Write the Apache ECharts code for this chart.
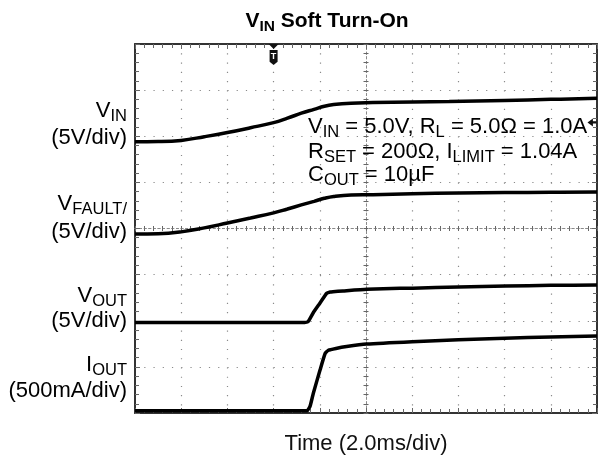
<!DOCTYPE html>
<html>
<head>
<meta charset="utf-8">
<script src="https://cdn.jsdelivr.net/npm/echarts@6/dist/echarts.min.js"></script>
<style>
  html, body { margin: 0; padding: 0; background: #fff; }
  #chart { width: 598px; height: 458px; }
</style>
</head>
<body>
<div id="chart"></div>
<script>
// Time base: 2.0 ms/div, trigger at t = 0, screen spans -6 ms .. 14 ms (10 div)
const timeRangeMs = [-6, 14];
const timePerDivMs = 2;

// Channel 1: VIN (volts), 5 V/div
const vinTime  = [-6, -5, -4, -3, -2, -1, 0, 0.6, 1.2, 1.75, 2.2, 2.6, 3.35, 4.3, 6, 7.6, 10, 12, 14];
const vinVolts = [0, 0.02, 0.15, 0.55, 1.0, 1.52, 2.08, 2.56, 3.1, 3.52, 3.86, 4.04, 4.19, 4.25, 4.32, 4.36, 4.48, 4.6, 4.71];

// Channel 2: VFAULT (volts), 5 V/div
const vfaultTime  = [-6, -5, -4, -3, -2, -1, 0, 0.6, 1.2, 1.75, 2.2, 2.6, 3.35, 4.3, 6, 8, 10, 12, 14];
const vfaultVolts = [0, 0.02, 0.22, 0.65, 1.18, 1.72, 2.28, 2.7, 3.14, 3.53, 3.86, 4.06, 4.22, 4.25, 4.35, 4.44, 4.48, 4.51, 4.54];

// Channel 3: VOUT (volts), 5 V/div
const voutTime  = [-6, -2, 1.35, 1.5, 1.71, 2.01, 2.3, 2.45, 2.57, 3, 4.03, 5.47, 6.03, 8, 10.06, 12, 14];
const voutVolts = [0, 0, 0, 0.12, 1.03, 2.11, 3.17, 3.3, 3.34, 3.42, 3.6, 3.71, 3.72, 3.84, 3.96, 4.02, 4.07];

// Channel 4: IOUT (milliamps), 500 mA/div
const ioutTime = [-6, -2, 1.45, 1.58, 1.72, 2.01, 2.23, 2.37, 2.7, 3.16, 4.03, 6, 8, 10, 12, 14];
const ioutMilliamps = [0, 0, 0, 50, 190, 440, 620, 655, 675, 695, 722, 748, 768, 785, 800, 810];

// Volts (or mA) per division and ground offset (div above bottom) per channel
const channelScale = [5, 5, 5, 500];
const channelOffsetDiv = [5.88, 3.883, 1.963, 0.05];

// Trigger level on VIN (volts)
const triggerLevelVolts = 2.1;

const FONT = '"Liberation Sans", Arial, Helvetica, sans-serif';
const INK = '#111';

const traces = [
  [vinTime, vinVolts],
  [vfaultTime, vfaultVolts],
  [voutTime, voutVolts],
  [ioutTime, ioutMilliamps]
];
// Slow ramps get a softer curve; the fast output edges keep their knees
const traceSmooth = [0.45, 0.45, 0.15, 0.15];

// Convert each channel into screen divisions (0..8) on the shared vertical axis
const series = traces.map(([t, v], i) => ({
  type: 'line',
  xAxisIndex: 0,
  yAxisIndex: 0,
  showSymbol: false,
  silent: true,
  smooth: traceSmooth[i],
  z: 5,
  lineStyle: { color: '#000', width: 3.5 },
  data: t.map((tm, k) => [tm, channelOffsetDiv[i] + v[k] / channelScale[i]])
}));

// Trigger position marker (top) and trigger level marker (right edge)
series[0].markPoint = {
  silent: true,
  animation: false,
  data: [
    {
      coord: [0, 8],
      symbol: 'path://M0,0 L10,0 L5,6 Z',
      symbolSize: [10, 5],
      symbolOffset: [0, 2.5],
      itemStyle: { color: '#111' },
      label: { show: false }
    },
    {
      coord: [0, 8],
      symbol: 'path://M0,0 L10,0 L10,15 L5,19 L0,15 Z',
      symbolSize: [8, 15],
      symbolOffset: [0, 13.5],
      itemStyle: { color: '#111' },
      label: { show: true, formatter: 'T', color: '#fff', fontSize: 9, fontWeight: 'bold', fontFamily: FONT, position: 'inside', offset: [0, -1] }
    },
    {
      coord: [timeRangeMs[1], channelOffsetDiv[0] + triggerLevelVolts / channelScale[0]],
      symbol: 'path://M0,5 L6,0 L6,3.5 L10,3.5 L10,6.5 L6,6.5 L6,10 Z',
      symbolSize: [9, 8],
      symbolOffset: [-5, 0],
      itemStyle: { color: '#111' },
      label: { show: false }
    }
  ]
};

const dotted = { color: '#8a8a8a', width: 1.2, type: [1.2, 8.04] };
const frameLine = { color: '#333', width: 2 };
const tickStyle = { color: '#666', width: 1 };

function frameX(position, extra) {
  return Object.assign({
    type: 'value', gridIndex: 0, position,
    min: timeRangeMs[0], max: timeRangeMs[1], interval: timePerDivMs,
    axisLine: { show: true, onZero: false, lineStyle: frameLine },
    axisTick: { show: true, inside: true, length: 5, lineStyle: tickStyle },
    minorTick: { show: true, splitNumber: 5, length: 4, lineStyle: tickStyle },
    axisLabel: { show: false },
    splitLine: { show: false }
  }, extra || {});
}
function frameY(position, min, max, extra) {
  return Object.assign({
    type: 'value', gridIndex: 0, position, min, max, interval: 1,
    axisLine: { show: true, onZero: false, lineStyle: frameLine },
    axisTick: { show: true, inside: true, length: 5, lineStyle: tickStyle },
    minorTick: { show: true, splitNumber: 5, length: 4, lineStyle: tickStyle },
    axisLabel: { show: false },
    splitLine: { show: false }
  }, extra || {});
}
// Center graticule lines with tick marks on both sides
function centerX(position) {
  return {
    type: 'value', gridIndex: 0, position, min: -5, max: 5, interval: 1,
    axisLine: { show: true, onZero: true, onZeroAxisIndex: 1, lineStyle: { color: '#8a8a8a', width: 1, type: [2, 2.6] } },
    axisTick: { show: true, inside: false, length: 2.5, lineStyle: tickStyle },
    minorTick: { show: true, splitNumber: 5, length: 2.5, lineStyle: tickStyle },
    axisLabel: { show: false },
    splitLine: { show: false }
  };
}
function centerY(position) {
  return {
    type: 'value', gridIndex: 0, position, min: -4, max: 4, interval: 1,
    axisLine: { show: true, onZero: true, onZeroAxisIndex: 2, lineStyle: { color: '#8a8a8a', width: 1, type: [2, 2.6] } },
    axisTick: { show: true, inside: false, length: 2.5, lineStyle: tickStyle },
    minorTick: { show: true, splitNumber: 5, length: 2.5, lineStyle: tickStyle },
    axisLabel: { show: false },
    splitLine: { show: false }
  };
}

const rich = (main, sub, weight) => ({
  m: { fontFamily: FONT, fontSize: main, fontWeight: weight, color: INK, lineHeight: 28 },
  s: { fontFamily: FONT, fontSize: sub, fontWeight: weight, color: INK, lineHeight: sub + 2, verticalAlign: 'bottom' }
});

const annotRich = rich(22, 16.5, 'normal');
const sideRich = rich(22, 16.5, 'normal');

function textEl(x, y, text, richDef, align) {
  return {
    type: 'text', x, y, silent: true, z: 10,
    style: { text, rich: richDef, align: align, verticalAlign: 'middle' }
  };
}

const sideLabels = [
  [111, '{m|V}{s|IN}'],
  [138, '{m|(5V/div)}'],
  [204, '{m|V}{s|FAULT/}'],
  [232, '{m|(5V/div)}'],
  [296, '{m|V}{s|OUT}'],
  [321, '{m|(5V/div)}'],
  [365, '{m|I}{s|OUT}'],
  [391, '{m|(500mA/div)}']
];

const option = {
  animation: false,
  backgroundColor: '#fff',
  grid: { left: 135, top: 44, width: 462, height: 369, show: false, containLabel: false, outerBoundsMode: 'none' },
  xAxis: [
    frameX('bottom', {
      splitLine: { show: true, lineStyle: dotted },
      name: 'Time (2.0ms/div)', nameLocation: 'middle', nameGap: 20,
      nameTextStyle: { fontFamily: FONT, fontSize: 22, color: INK }
    }),
    frameX('top'),
    centerX('bottom'),
    centerX('top')
  ],
  yAxis: [
    frameY('left', 0, 8, { splitLine: { show: true, lineStyle: dotted } }),
    frameY('right', -4, 4),
    centerY('left'),
    centerY('right')
  ],
  series,
  graphic: [
    textEl(327, 21, '{m|V}{s|IN}{m| Soft Turn-On}', rich(21, 15.5, 'bold'), 'center'),
    textEl(308, 127, '{m|V}{s|IN}{m| = 5.0V, R}{s|L}{m| = 5.0Ω = 1.0A}', annotRich, 'left'),
    textEl(308, 152, '{m|R}{s|SET}{m| = 200Ω, I}{s|LIMIT}{m| = 1.04A}', annotRich, 'left'),
    textEl(308, 175, '{m|C}{s|OUT}{m| = 10µF}', annotRich, 'left')
  ].concat(sideLabels.map(([y, t]) => textEl(127, y, t, sideRich, 'right')))
};

const chart = echarts.init(document.getElementById('chart'), null, { renderer: 'canvas' });
chart.setOption(option);
</script>
</body>
</html>
